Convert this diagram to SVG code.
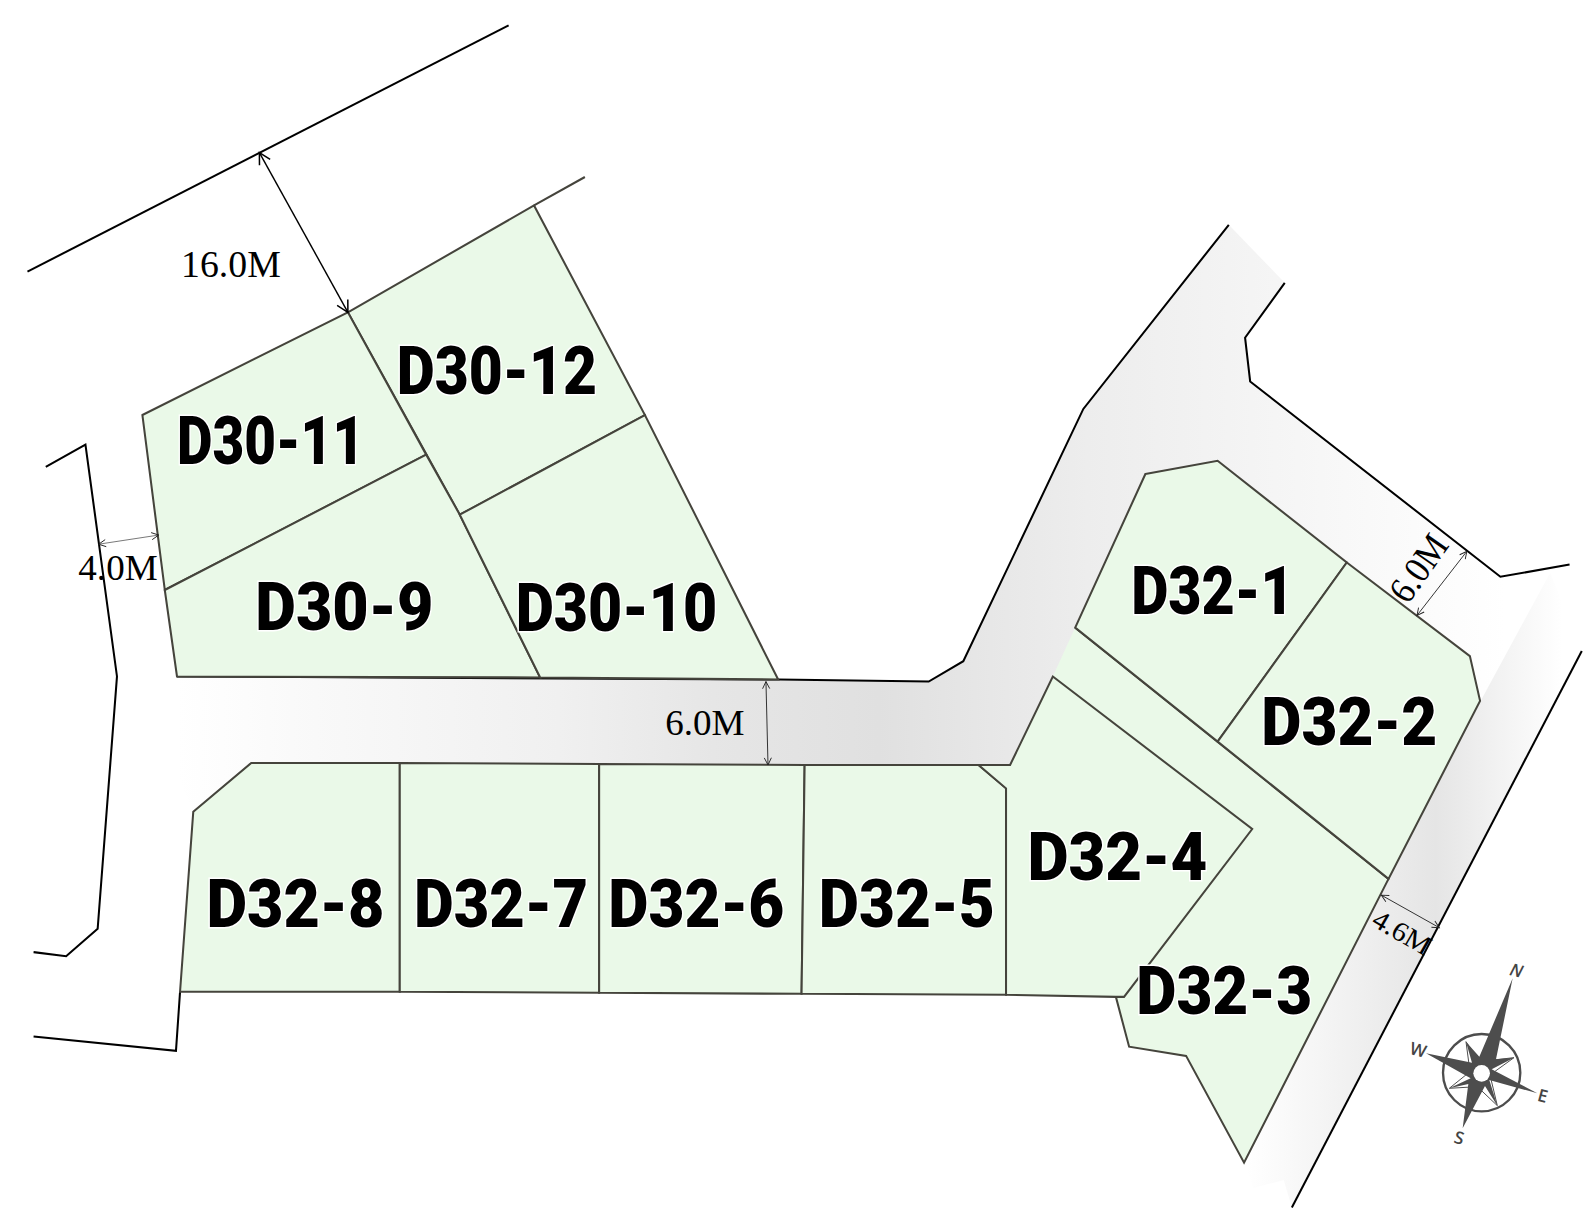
<svg xmlns="http://www.w3.org/2000/svg" width="1595" height="1221" viewBox="0 0 1595 1221">
<style>
.plot{fill:#eaf9e8;stroke:#45443c;stroke-width:2;stroke-linejoin:miter}
.fillonly{fill:#eaf9e8;stroke:none}
.edge{fill:none;stroke:#45443c;stroke-width:2}
.road{fill:none;stroke:#000;stroke-width:2}
.lbl{font-family:"Roboto","Liberation Sans",sans-serif;font-weight:900;font-size:66px;fill:#000;stroke:#fff;stroke-width:3px;paint-order:stroke}
.dim{font-family:"Liberation Serif","Times New Roman",serif;fill:#000}
.arrow{fill:none;stroke:#000;marker-start:url(#open);marker-end:url(#open)}
.thin{fill:none;stroke:#222;marker-start:url(#opens);marker-end:url(#opens)}
.cp{font-family:"Open Sans","Liberation Sans",sans-serif;font-size:52px;font-weight:600;fill:#444;text-anchor:middle}
</style>
<defs>
<linearGradient id="g1" gradientUnits="userSpaceOnUse" x1="174" y1="0" x2="1480" y2="0">
<stop offset="0" stop-color="#ffffff"/><stop offset="0.104" stop-color="#f9f9f9"/><stop offset="0.288" stop-color="#f0f0f0"/><stop offset="0.403" stop-color="#e6e6e6"/><stop offset="0.528" stop-color="#e0e0e0"/><stop offset="0.685" stop-color="#ededed"/><stop offset="0.809" stop-color="#f4f4f4"/><stop offset="0.931" stop-color="#fbfbfb"/><stop offset="1" stop-color="#ffffff"/>
</linearGradient>
<linearGradient id="g2" gradientUnits="userSpaceOnUse" x1="1225" y1="0" x2="1535" y2="0">
<stop offset="0" stop-color="#ffffff"/><stop offset="0.6" stop-color="#e5e5e5"/><stop offset="1" stop-color="#ffffff"/>
</linearGradient>
<marker id="open" viewBox="-12 -7 14 14" markerWidth="14" markerHeight="14" refX="0" refY="0" markerUnits="userSpaceOnUse" orient="auto-start-reverse">
<path d="M-11,-6 L0,0 L-11,6" fill="none" stroke="#000" stroke-width="1.5"/>
</marker>
<marker id="opens" viewBox="-8 -5 10 10" markerWidth="10" markerHeight="10" refX="0" refY="0" markerUnits="userSpaceOnUse" orient="auto-start-reverse">
<path d="M-7,-3.5 L0,0 L-7,3.5" fill="none" stroke="#222" stroke-width="0.9"/>
</marker>
</defs>
<g transform="scale(1.01722)">
<g id="roads">
<polygon points="174,665 913,670 947,650 1065,402 1208,221 1263,278 1224,332 1229,375 1475,567 1524,563 1455,690 1197,600 1035,665 993,752 247,750 190,798 174,760" fill="url(#g1)"/>
<polygon points="1524,563 1555,640 1270,1187 1262,1160 1232,1168 1223,1143 1455,690" fill="url(#g2)"/>
<polyline class="road" points="27,267 500,25"/>
<polyline class="road" points="45,459 84,437 115,665 96,913 65,940 33,936"/>
<polyline class="road" points="33,1019 173,1033 177,975"/>
<polyline class="road" points="174,665 765,668 913,670 947,650 1065,402 1208,221"/>
<polyline class="road" points="1263,278 1224,332 1229,375 1475,567 1543,555"/>
<polyline class="road" points="1555,640 1270,1187"/>
<polyline class="edge" points="525,202 575,174"/>
</g>
<g id="D30-12"><polygon class="plot" points="342,307 525,202 634,408 452,506"/></g>
<g id="D30-11"><polygon class="plot" points="140,408 342,307 419,447 162,580"/></g>
<g id="D30-9"><polygon class="plot" points="162,580 419,447 452,506 531,666 174,665"/></g>
<g id="D30-10"><polygon class="plot" points="452,506 634,408 765,668 531,666"/></g>
<g id="D32-8"><polygon class="plot" points="247,750 393,750 393,975 177,975 190,798"/></g>
<g id="D32-7"><polygon class="plot" points="393,750 589,751 589,976 393,975"/></g>
<g id="D32-6"><polygon class="plot" points="589,751 791,752 788,977 589,976"/></g>
<g id="D32-5"><polygon class="plot" points="791,752 962,752 989,775 989,978 788,977"/></g>
<g id="D32-3"><polygon class="fillonly" points="1057,617 1365,864 1223,1143 1166,1038 1110,1029 1097,980 1105,980 1231,815 1035,665"/>
<polyline class="edge" points="1057,617 1365,864 1223,1143 1166,1038 1110,1029 1097,980"/></g>
<g id="D32-4"><polygon class="plot" points="1035,665 1231,815 1105,980 1097,980 989,978 989,775 962,752 993,752"/></g>
<g id="D32-1"><polygon class="plot" points="1126,466 1197,453 1324,553 1197,729 1057,617"/></g>
<g id="D32-2"><polygon class="plot" points="1324,553 1445,645 1455,689 1365,864 1197,729"/></g>
<g id="connectors">
<line class="arrow" x1="255" y1="150" x2="342" y2="307" stroke-width="1.4"/>
<line class="thin" x1="97" y1="535" x2="156" y2="526" stroke-width="0.6"/>
<line class="thin" x1="753" y1="670" x2="755" y2="752" stroke-width="0.9"/>
<line class="thin" x1="1442" y1="542" x2="1393" y2="605" stroke-width="0.9"/>
<line class="thin" x1="1358" y1="880" x2="1415" y2="912" stroke-width="0.9"/>
</g>
<g id="dims">
<text class="dim" x="178" y="272" font-size="37" textLength="98" lengthAdjust="spacingAndGlyphs">16.0M</text>
<text class="dim" x="77" y="570" font-size="36" textLength="78" lengthAdjust="spacingAndGlyphs">4.0M</text>
<text class="dim" x="654" y="723" font-size="36" textLength="78" lengthAdjust="spacingAndGlyphs">6.0M</text>
<text class="dim" font-size="37" textLength="72" lengthAdjust="spacingAndGlyphs" transform="translate(1384,595) rotate(-55)">6.0M</text>
<text class="dim" font-size="27" textLength="62" lengthAdjust="spacingAndGlyphs" transform="translate(1347,909) rotate(30)">4.6M</text>
</g>
<g id="labels">
<text class="lbl" x="390" y="387" textLength="197" lengthAdjust="spacingAndGlyphs">D30-12</text>
<text class="lbl" x="174" y="456" textLength="184" lengthAdjust="spacingAndGlyphs">D30-11</text>
<text class="lbl" x="251" y="619" textLength="175" lengthAdjust="spacingAndGlyphs">D30-9</text>
<text class="lbl" x="507" y="620" textLength="198" lengthAdjust="spacingAndGlyphs">D30-10</text>
<text class="lbl" x="1112" y="604" textLength="160" lengthAdjust="spacingAndGlyphs">D32-1</text>
<text class="lbl" x="1240" y="732" textLength="173" lengthAdjust="spacingAndGlyphs">D32-2</text>
<text class="lbl" x="1117" y="997" textLength="173" lengthAdjust="spacingAndGlyphs">D32-3</text>
<text class="lbl" x="1010" y="865" textLength="177" lengthAdjust="spacingAndGlyphs">D32-4</text>
<text class="lbl" x="805" y="911" textLength="173" lengthAdjust="spacingAndGlyphs">D32-5</text>
<text class="lbl" x="598" y="911" textLength="173" lengthAdjust="spacingAndGlyphs">D32-6</text>
<text class="lbl" x="407" y="911" textLength="171" lengthAdjust="spacingAndGlyphs">D32-7</text>
<text class="lbl" x="203" y="911" textLength="175" lengthAdjust="spacingAndGlyphs">D32-8</text>
</g>
</g>
<g id="compass" transform="translate(1390,940) scale(0.3333)">
<circle cx="275" cy="398" r="116" fill="#fff" stroke="#4d4d4d" stroke-width="7"/>
<polygon points="228,305 268,365 372,353 300,405 322,497 262,440 178,445 240,395" fill="none" stroke="#4d4d4d" stroke-width="3"/>
<polygon points="368,115 318,358 372,353 305,388 442,460 298,420 322,497 285,438 218,565 235,432 178,445 242,415 108,340 246,368 228,305 268,350" fill="#4d4d4d"/>
<circle cx="275" cy="400" r="25" fill="#fff"/>
<text class="cp" x="380" y="110" transform="rotate(15 380 88)" font-style="italic" font-size="66">N</text>
<text class="cp" x="458" y="486" transform="rotate(15 458 468)">E</text>
<text class="cp" x="208" y="612" transform="rotate(15 208 592)">S</text>
<text class="cp" x="85" y="348" transform="rotate(15 85 330)">W</text>
</g>
</svg>
